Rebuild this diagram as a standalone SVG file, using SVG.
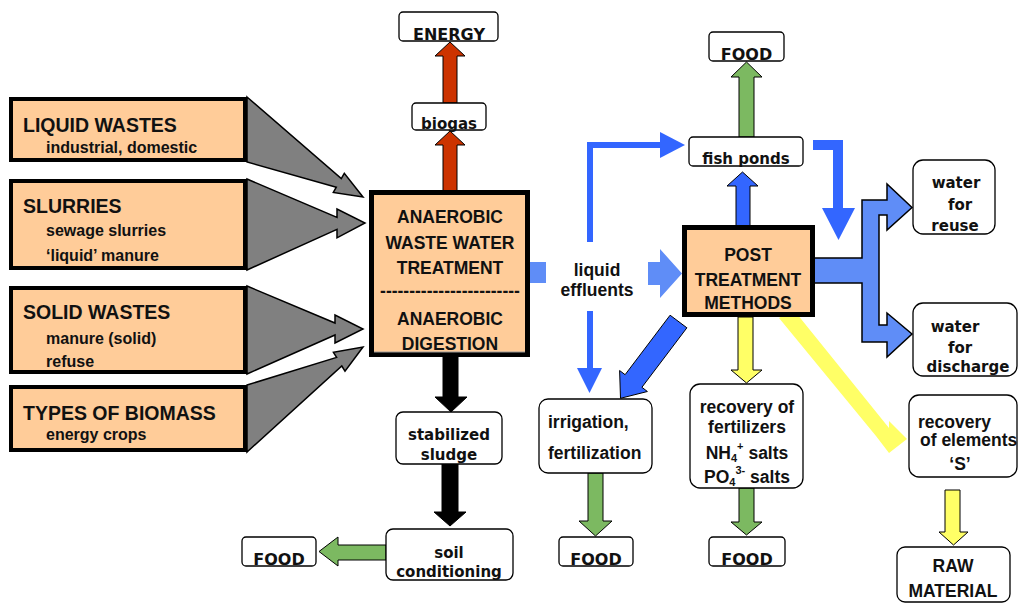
<svg xmlns="http://www.w3.org/2000/svg" width="1019" height="603" viewBox="0 0 1019 603">
<style>
.src{fill:#FFCC99;stroke:#000;stroke-width:4}
.main{fill:#FFCC99;stroke:#000;stroke-width:5}
.box{fill:#fff;stroke:#000;stroke-width:1.3}
.gray{fill:#808080;stroke:#000;stroke-width:1.5;stroke-linejoin:miter}
.red{fill:#CC3300;stroke:#000;stroke-width:1}
.grn{fill:#7CB961;stroke:#000;stroke-width:1}
.blk{fill:#000;stroke:#000;stroke-width:1}
.ylw{fill:#FFFF66;stroke:#000;stroke-width:1}
.ylw2{fill:#FFFF66;stroke:none}
.blu{fill:#3366FF;stroke:#000;stroke-width:1}
.blu2{fill:#3366FF;stroke:none}
.lb{fill:#5F8DF7;stroke:none}
.lbo{fill:#5F8DF7;stroke:#000;stroke-width:1.5}
.ln{fill:none;stroke:#3366FF;stroke-width:6}
.a{font-family:"Liberation Sans",Arial,sans-serif;font-weight:bold;font-size:17.5px;fill:#111}
.t{font-size:19.5px}
.s{font-size:16px}
.d{font-family:"DejaVu Sans",sans-serif;font-weight:bold;font-size:15px;fill:#111}
.D{font-size:16px}
.m{text-anchor:middle}
</style>

<g id="connectors">
  <!-- gray input arrows -->
  <polygon class="gray" points="247,97 341.3,178.6 344.3,173.4 363,197 333.3,192.4 336.3,187.2 247,162"/>
  <polygon class="gray" points="247,179 337,217.4 337,209 365,223 337,237.8 337,229.4 247,270"/>
  <polygon class="gray" points="247,286 335,323 335,315 363,329 335,343 335,335 247,374"/>
  <polygon class="gray" points="247,385 336.6,357.4 333.4,352.3 363,347 345,371.1 341.8,366 247,452"/>
  <!-- red arrows -->
  <polygon class="red" points="443,191 443,145 435,145 450,131 465,145 457,145 457,191"/>
  <polygon class="red" points="443,103 443,56 435,56 450,42 465,56 457,56 457,103"/>
  <!-- black arrows -->
  <polygon class="blk" points="443,357 443,397 435,397 451,412 467,397 458,397 458,357"/>
  <polygon class="blk" points="442,464 442,512 434,512 450,526 466,512 458,512 458,464"/>
  <!-- green arrows -->
  <polygon class="grn" points="386,545 338,545 338,537 319,551.5 338,566 338,560 386,560"/>
  <polygon class="grn" points="739,137 739,77 731,77 746.5,62 762,77 754,77 754,137"/>
  <polygon class="grn" points="588,473 588,521 579,521 595.5,536 612,521 603,521 603,473"/>
  <polygon class="grn" points="739,488 739,522 731,522 746.5,535 762,522 754,522 754,488"/>
  <!-- liquid effluents -->
  <rect class="lb" x="529" y="262" width="17" height="21"/>
  <polygon class="lb" points="648,262 660,262 660,249 682,273.5 660,298 660,285 648,285"/>
  <polyline class="ln" points="590,242 590,145 661,145"/>
  <polygon class="blu2" points="660,132 685,145 660,158"/>
  <line class="ln" x1="590" y1="311" x2="590" y2="369"/>
  <polygon class="blu2" points="577,368 602,368 589.5,393"/>
  <!-- post -> fish ponds -->
  <polygon class="blu" points="736,227 736,186 727,186 742.5,172 758,186 750,186 750,227"/>
  <!-- fish ponds -> post -->
  <polygon class="blu2" points="813,140 843,140 843,208 855,208 838.5,240 822,208 833,208 833,150 813,150"/>
  <!-- branching water arrow -->
  <polygon class="lbo" points="814,258 862,258 862,200 887,200 887,184 912,207.5 887,230 887,215 879,215 879,325 887,325 887,313 912,334 887,357 887,342 862,342 862,283 814,283"/>
  <!-- post -> irrigation -->
  <polygon class="blu" points="670.1,315.2 625.1,374.7 619.6,370.5 620.5,398.3 647.4,391.5 641.9,387.3 686.9,327.8"/>
  <!-- yellow arrows -->
  <polygon class="ylw2" points="779,318 876,436 889,453 907,439 889,421 889,428 793,309"/>
  <polygon class="ylw" points="738,317 738,370 731,370 746.5,383 762,370 753,370 753,317"/>
  <polygon class="ylw" points="945,490 945,532 939,532 953.5,545 968,532 960,532 960,490"/>
</g>

<g id="liquid-wastes">
  <rect class="src" x="11" y="99" width="234" height="61"/>
  <text class="a t" x="23" y="132">LIQUID WASTES</text>
  <text class="a s" x="46" y="153">industrial, domestic</text>
</g>
<g id="slurries">
  <rect class="src" x="11" y="181" width="234" height="87"/>
  <text class="a t" x="23" y="213">SLURRIES</text>
  <text class="a s" x="46" y="236">sewage slurries</text>
  <text class="a s" x="46" y="261">‘liquid’ manure</text>
</g>
<g id="solid-wastes">
  <rect class="src" x="11" y="288" width="234" height="84"/>
  <text class="a t" x="23" y="319">SOLID WASTES</text>
  <text class="a s" x="46" y="344">manure (solid)</text>
  <text class="a s" x="46" y="367">refuse</text>
</g>
<g id="biomass">
  <rect class="src" x="11" y="387" width="234" height="63"/>
  <text class="a t" x="23" y="420">TYPES OF BIOMASS</text>
  <text class="a s" x="46" y="440">energy crops</text>
</g>

<g id="anaerobic">
  <rect class="main" x="371.5" y="192.5" width="156" height="162"/>
  <line x1="374" y1="352" x2="525" y2="352" stroke="#999" stroke-width="1"/>
  <text class="a m" x="450" y="223">ANAEROBIC</text>
  <text class="a m" x="450" y="249">WASTE WATER</text>
  <text class="a m" x="450" y="274">TREATMENT</text>
  <text class="a m" x="450" y="297">------------------------</text>
  <text class="a m" x="450" y="325">ANAEROBIC</text>
  <text class="a m" x="450" y="350">DIGESTION</text>
</g>

<g id="biogas">
  <rect class="box" x="412" y="103" width="74" height="27" rx="4"/>
  <text class="d m" x="449" y="129">biogas</text>
</g>
<g id="energy">
  <rect class="box" x="399" y="12" width="99" height="29" rx="4"/>
  <text class="d D m" x="449" y="40">ENERGY</text>
</g>

<g id="stabilized-sludge">
  <rect class="box" x="396" y="412" width="106" height="52" rx="7"/>
  <text class="d m" x="449" y="440">stabilized</text>
  <text class="d m" x="449" y="460">sludge</text>
</g>
<g id="soil-conditioning">
  <rect class="box" x="386" y="529" width="127" height="51" rx="7"/>
  <text class="d m" x="449" y="558">soil</text>
  <text class="d m" x="449" y="577">conditioning</text>
</g>
<g id="food-soil">
  <rect class="box" x="242" y="537" width="74" height="29" rx="4"/>
  <text class="d D m" x="279" y="565">FOOD</text>
</g>

<g id="liquid-effluents">
  <text class="a m" x="597" y="276">liquid</text>
  <text class="a m" x="597" y="296">effluents</text>
</g>

<g id="fish-ponds">
  <rect class="box" x="689" y="137" width="114" height="29" rx="4"/>
  <text class="d m" x="746" y="164">fish ponds</text>
</g>
<g id="food-fish">
  <rect class="box" x="709" y="32" width="75" height="29" rx="4"/>
  <text class="d D m" x="746.5" y="60">FOOD</text>
</g>

<g id="post-treatment">
  <rect class="main" x="684.5" y="227.5" width="128" height="87"/>
  <text class="a m" x="748" y="261">POST</text>
  <text class="a m" x="748" y="286">TREATMENT</text>
  <text class="a m" x="748" y="309">METHODS</text>
</g>

<g id="water-reuse">
  <rect class="box" x="913" y="160" width="82" height="74" rx="10"/>
  <text class="d m" x="956" y="188">water</text>
  <text class="d m" x="960" y="210">for</text>
  <text class="d m" x="955" y="231">reuse</text>
</g>
<g id="water-discharge">
  <rect class="box" x="913" y="303" width="104" height="73" rx="10"/>
  <text class="d m" x="955" y="332">water</text>
  <text class="d m" x="960" y="353">for</text>
  <text class="d m" x="968" y="372">discharge</text>
</g>

<g id="irrigation">
  <rect class="box" x="539" y="399" width="113" height="74" rx="9"/>
  <text class="a" x="548" y="428">irrigation,</text>
  <text class="a" x="548" y="459">fertilization</text>
</g>
<g id="food-irrigation">
  <rect class="box" x="559" y="537" width="74" height="29" rx="4"/>
  <text class="d D m" x="596" y="565">FOOD</text>
</g>

<g id="fertilizers">
  <rect class="box" x="690" y="384" width="113" height="104" rx="10"/>
  <text class="a m" x="747" y="413">recovery of</text>
  <text class="a m" x="747" y="433">fertilizers</text>
  <text class="a m" x="747" y="459">NH<tspan font-size="11" dy="3">4</tspan><tspan font-size="11" dy="-12">+</tspan><tspan dy="9"> salts</tspan></text>
  <text class="a m" x="747" y="483">PO<tspan font-size="11" dy="3">4</tspan><tspan font-size="11" dy="-12">3-</tspan><tspan dy="9"> salts</tspan></text>
</g>
<g id="food-fertilizers">
  <rect class="box" x="709" y="537" width="76" height="29" rx="4"/>
  <text class="d D m" x="747" y="565">FOOD</text>
</g>

<g id="elements">
  <rect class="box" x="909" y="395" width="108" height="82" rx="10"/>
  <text class="a" x="918" y="428">recovery</text>
  <text class="a" x="920" y="446">of elements</text>
  <text class="a m" x="960" y="470">‘S’</text>
</g>
<g id="raw-material">
  <rect class="box" x="897" y="547" width="113" height="55" rx="8"/>
  <text class="a m" x="953" y="572">RAW</text>
  <text class="a m" x="953" y="597">MATERIAL</text>
</g>
</svg>
